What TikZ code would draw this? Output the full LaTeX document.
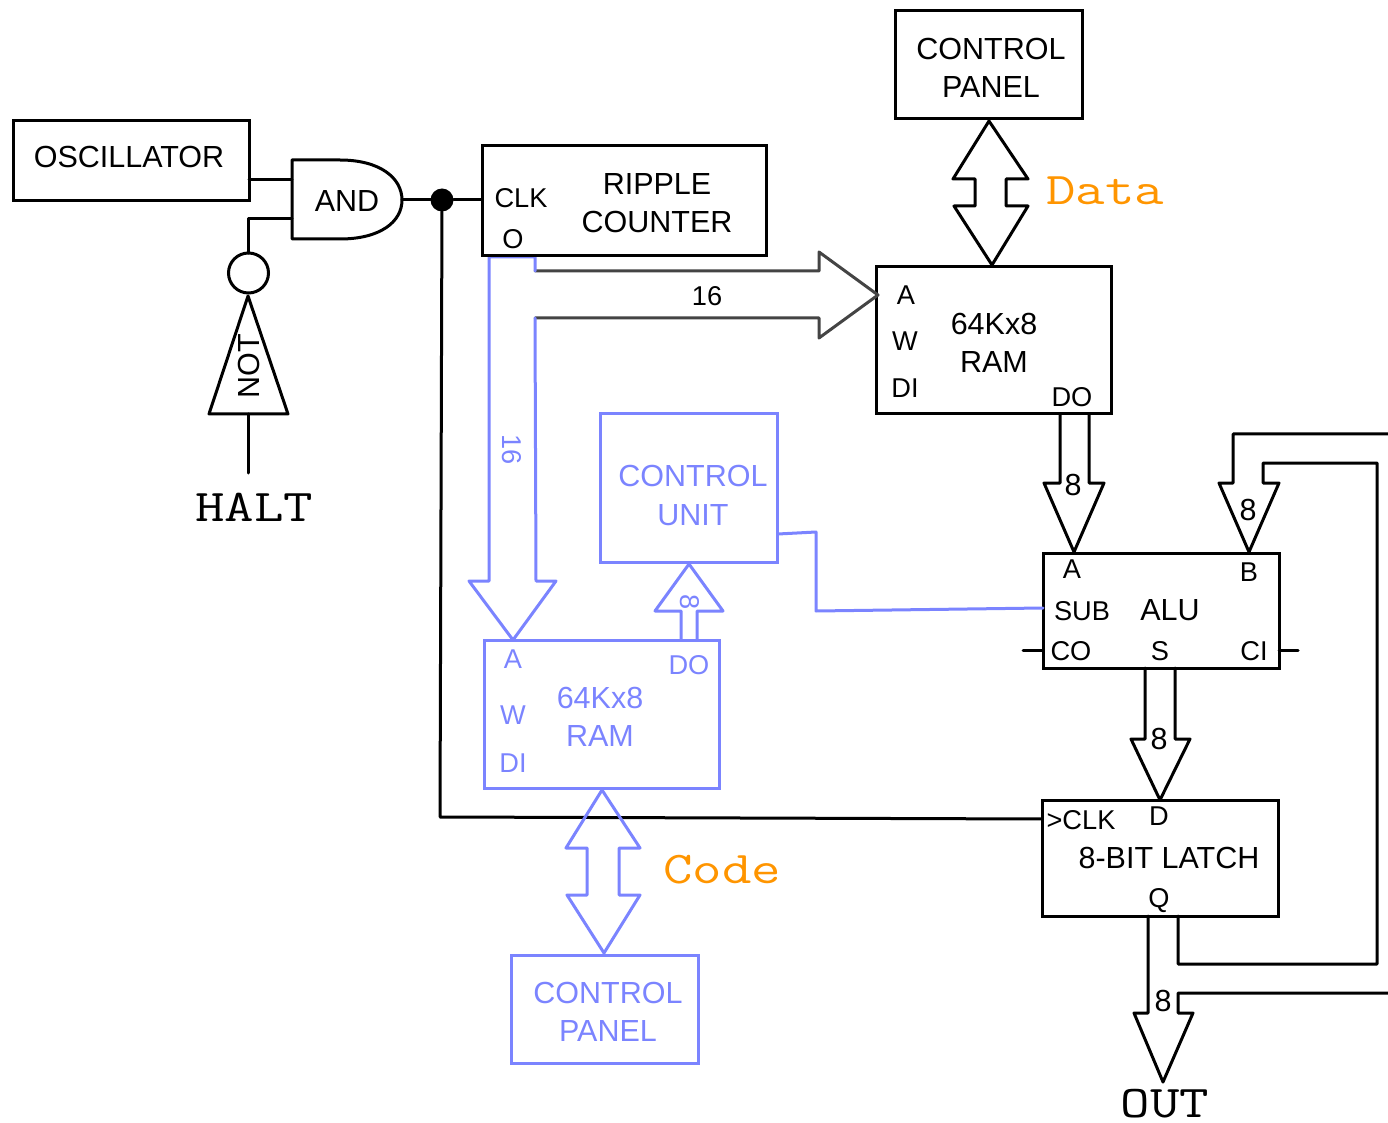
\documentclass[tikz,border=0pt]{standalone}
\usepackage{fontspec}
\usepackage{graphicx}
\setmainfont{Liberation Sans}
\usetikzlibrary{calc}
\definecolor{cublue}{HTML}{7B84FF}
\definecolor{cuorange}{HTML}{FF9500}
\definecolor{busgrey}{HTML}{444444}
\newfontfamily\lmmono{Latin Modern Mono}
\newcommand{\wide}[1]{\scalebox{1.06}[.84]{#1}}
\tikzset{
  wire/.style={line width=1.5pt,line join=round,line cap=round,draw=black},
  bluewire/.style={wire,draw=cublue},
  box/.style 2 args={rectangle,draw=black,line width=1.5pt,inner sep=0pt,outer sep=0pt,fill=none,
     minimum width=#1*0.5pt,minimum height=#2*0.5pt},
  bluebox/.style 2 args={box={#1}{#2},draw=cublue},
  big/.style={inner sep=0pt,outer sep=0pt,font=\fontsize{15.25}{15.25}\selectfont,text height=10.9pt,text depth=0pt},
  small/.style={inner sep=0pt,outer sep=0pt,font=\fontsize{13.6}{13.6}\selectfont,text height=9.7pt,text depth=0pt},
  mono/.style={inner sep=0pt,outer sep=0pt,font=\fontsize{27}{27}\lmmono\selectfont,text height=14pt,text depth=0pt},
  bt/.style={text=cublue},
}
\begin{document}
\begin{tikzpicture}[x=0.5pt,y=-0.5pt]
\useasboundingbox (0,0) rectangle (1388,1123);
% ---- boxes
\node[box={236}{80}] (osc) at (131,160.5) {};
\node[box={187}{108}] (cptop) at (988.5,65) {};
\node[box={235}{147}] (ramtop) at (993.5,340.5) {};
\node[box={236}{115}] (alu) at (1161,610.5) {};
\node[box={236}{116}] (latch) at (1160,858) {};
\node[bluebox={177}{148}] (cu) at (688.5,488) {};
\node[bluebox={235}{148}] (rambot) at (601.5,714) {};
\node[bluebox={187}{108}] (cpbot) at (604.5,1009) {};
% ---- named ends
\coordinate (andw) at (292,200);
\coordinate (ande) at (402,200);
\coordinate (andu) at (292,180);
\coordinate (andl) at (292,219);
\coordinate (oscout) at (osc.east |- andu);
\coordinate (halt) at (248,473);
\coordinate (nottip) at (248,296);
\coordinate (cuout) at (778,534);
\coordinate (cuelbow) at (816,532);
\coordinate (cuelbowb) at (816,611);
\coordinate (aluSub) at (1043,608);
\coordinate (latchClk) at (1042,819);
\coordinate (clkcorner) at (440,817);
\coordinate (aluA) at (1074,552);
\coordinate (aluB) at (1249,552);
\coordinate (latchD) at (1160,800);
\coordinate (outtip) at (1163,1082);
\coordinate (ramA) at (878,295);
\coordinate (rambA) at (513,640);
\coordinate (cutip) at (689,564);
% ---- AND gate
\draw[wire] (292,160) -- (340,160) .. controls (380,160) and (402,178) .. (402,200)
   .. controls (402,222) and (380,239) .. (340,239) -- (292,239) -- cycle;
% ---- NOT gate
\node[circle,draw=black,line width=1.5pt,minimum size=40*0.5pt,inner sep=0pt,outer sep=0pt] (bub) at (248.5,273) {};
\draw[wire] (nottip) -- (288,414) -- (209,414) -- cycle;
\draw[wire] (halt) -- (248,414);
\draw[wire] (bub.north) -- (bub.north |- andl) -- (andl);
\draw[wire] (oscout) -- (andu);
% ---- clock line
\node[circle,fill=black,minimum size=23*0.5pt,inner sep=0pt,outer sep=0pt] (dot) at (442,200) {};
\draw[wire] (ande) -- (dot) -- (482,200);
\draw[wire] (dot) -- (clkcorner) -- (latchClk);
% ---- black buses
\draw[wire] (989,121) -- (1028,179) -- (1006,179) -- (1006,206) -- (1028,206) -- (992,265)
   -- (954,206) -- (975,206) -- (975,179) -- (953,179) -- cycle;
\draw[wire] (aluA) +(-14,-138) -- +(-14,-69) -- +(-30,-69) -- +(0,0) -- +(30,-69) -- +(15,-69) -- +(15,-138);
\draw[wire] (1388,434) -- (1233,434) -- (1233,483) -- (1219,483) -- (aluB) -- (1279,483) -- (1263,483) -- (1263,463)
   -- (1377,463) -- (1377,964) -- (1178,964) -- (1178,916);
\draw[wire] (latchD) +(-15,-132) -- +(-15,-61) -- +(-29,-61) -- +(0,0) -- +(30,-61) -- +(15,-61) -- +(15,-132);
\draw[wire] (1148,916) -- (1148,1013) -- (1134,1013) -- (outtip) -- (1193,1013) -- (1178,1013) -- (1178,993) -- (1388,993);
\draw[wire] (alu.west |- 0,650) -- ++(-20,0);
\draw[wire] (alu.east |- 0,650) -- ++(19,0);
% ---- address bus
\draw[wire,draw=busgrey] (535,271) -- (819,271) -- (819,252) -- (ramA) -- (819,338) -- (819,318) -- (535,318);
\draw[bluewire] (535,271) -- (535,257) -- (489,257) -- (489,581) -- (469,581) -- (rambA) -- (556,581) -- (536,581) -- (535,318);
% ---- blue buses
\draw[bluewire] (697,640) -- (697,611) -- (723,611) -- (cutip) -- (655,611) -- (681,611) -- (681,640);
\draw[bluewire] (602,790) -- (640,848) -- (619,848) -- (619,895) -- (640,895) -- (604,953) -- (567,895) -- (587,895)
   -- (587,848) -- (566,848) -- cycle;
\draw[bluewire] (cuout) -- (cuelbow) -- (cuelbowb) -- (aluSub);
% ---- ripple on top of the bus start
\node[box={284}{110}] (ripple) at (624,201) {};
% ---- text
\node[big] (tosc) at (129,157) {OSCILLATOR};
\node[big] (tand) at (347,201) {AND};
\node[big,rotate=90] (tnot) at (249,366) {NOT};
\node[mono] (thalt) at (254,507) {\wide{HALT}};
\node[big] (trip1) at (657,184) {RIPPLE};
\node[big] (trip2) at (657,222) {COUNTER};
\node[small] (tclk) at (521,198) {CLK};
\node[small] (to) at (513,239) {O};
\node[big] (tcp1) at (991,49) {CONTROL};
\node[big] (tcp2) at (991,87) {PANEL};
\node[mono,text=cuorange] (tdata) at (1105,191) {\wide{Data}};
\node[small] (t16) at (707,296) {16};
\node[small] (tra) at (906,295) {A};
\node[small] (trw) at (905,341) {W};
\node[small] (trdi) at (905,388) {DI};
\node[big] (tr1) at (994,324) {64Kx8};
\node[big] (tr2) at (994,362) {RAM};
\node[small] (trdo) at (1072,397) {DO};
\node[big] (t8a) at (1073,485) {8};
\node[big] (t8b) at (1248,510) {8};
\node[small] (taa) at (1072,569) {A};
\node[small] (tab) at (1249,572) {B};
\node[small] (tas) at (1082,611) {SUB};
\node[big] (talu) at (1170,610) {ALU};
\node[small] (taco) at (1071,651) {CO};
\node[small] (tass) at (1160,651) {S};
\node[small] (taci) at (1254,651) {CI};
\node[big] (t8c) at (1159,739) {8};
\node[small] (tlclk) at (1081,820) {>CLK};
\node[small] (tld) at (1159,816) {D};
\node[big] (tlat) at (1169,858) {8-BIT LATCH};
\node[small] (tlq) at (1159,898) {Q};
\node[big] (t8d) at (1163,1001) {8};
\node[mono] (tout) at (1165,1103) {\wide{OUT}};
\node[small,bt,rotate=-90] (tb16) at (512,450) {16};
\node[big,bt] (tcu1) at (693,476) {CONTROL};
\node[big,bt] (tcu2) at (693,515) {UNIT};
\node[small,bt,rotate=-90] (tb8) at (690,602) {8};
\node[small,bt] (tba) at (513,659) {A};
\node[small,bt] (tbw) at (513,715) {W};
\node[small,bt] (tbdi) at (513,763) {DI};
\node[big,bt] (tb1) at (600,698) {64Kx8};
\node[big,bt] (tb2) at (600,736) {RAM};
\node[small,bt] (tbdo) at (689,665) {DO};
\node[mono,text=cuorange] (tcode) at (722,869) {\wide{Code}};
\node[big,bt] (tcb1) at (608,993) {CONTROL};
\node[big,bt] (tcb2) at (608,1031) {PANEL};
\end{tikzpicture}
\end{document}
